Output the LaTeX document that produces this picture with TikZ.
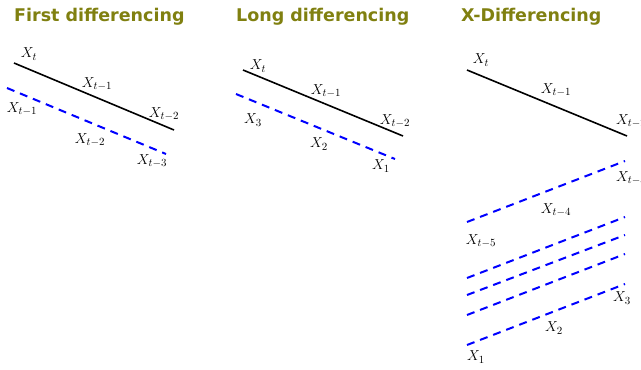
\documentclass[tikz,border=0pt]{standalone}
\usepackage{fontspec}
\newfontfamily\titlefont{DejaVu Sans}
\usepackage{tikz}
\usetikzlibrary{positioning}

\definecolor{titleolive}{RGB}{128,128,16}

\begin{document}
\begin{tikzpicture}[
  x=1pt, y=-1pt,
  title/.style={font=\titlefont\bfseries\fontsize{17.5}{19}\selectfont, text=titleolive, anchor=base west, inner sep=0pt},
  lbl/.style={font=\fontsize{15}{17}\selectfont, inner sep=0pt},
  lvl/.style={line width=1.6pt, black},
  diff/.style={line width=2pt, blue, dash pattern=on 8pt off 6pt},
]
\useasboundingbox (0,0) rectangle (641,370);
\clip (0,0) rectangle (641,370);

% Titles
\node[title] (t1) at (14,21) {First differencing};
\node[title] (t2) at (236,21) {Long differencing};
\node[title] (t3) at (461,21) {X-Differencing};

% First differencing
\coordinate (fa) at (14,63);
\coordinate (fb) at (174,130);
\coordinate (fc) at (7,88);
\coordinate (fd) at (166,154);
\draw[lvl] (fa) -- (fb);
\draw[diff] (fc) -- (fd);
\node[lbl] (f1) at (29,54) {$X_t$};
\node[lbl] (f2) at (97,84) {$X_{t-1}$};
\node[lbl] (f3) at (164,114) {$X_{t-2}$};
\node[lbl] (f4) at (22,109) {$X_{t-1}$};
\node[lbl] (f5) at (90,140) {$X_{t-2}$};
\node[lbl] (f6) at (152,161) {$X_{t-3}$};

% Long differencing
\coordinate (la) at (243,70);
\coordinate (lb) at (403,136);
\coordinate (lc) at (236,94);
\coordinate (ld) at (395,159);
\draw[lvl] (la) -- (lb);
\draw[diff] (lc) -- (ld);
\node[lbl] (l1) at (258,66) {$X_t$};
\node[lbl] (l2) at (326,91) {$X_{t-1}$};
\node[lbl] (l3) at (395,121) {$X_{t-2}$};
\node[lbl] (l4) at (253,120) {$X_3$};
\node[lbl] (l5) at (319,144) {$X_2$};
\node[lbl] (l6) at (381,166) {$X_1$};

% X-Differencing
\coordinate (xa) at (467,70);
\coordinate (xb) at (627,136);
\draw[lvl] (xa) -- (xb);
\foreach \i/\ya/\yb in {1/222/161, 2/278/217, 3/295/235, 4/315/254, 5/345/284}
  \draw[diff] (467,\ya) coordinate (xs\i) -- (625,\yb) coordinate (xe\i);
\node[lbl] (x1) at (481,60) {$X_t$};
\node[lbl] (x2) at (556,90) {$X_{t-1}$};
\node[lbl, anchor=west] (x3) at (616,121) {$X_{t-2}$};
\node[lbl, anchor=west] (x4) at (616,178) {$X_{t-3}$};
\node[lbl] (x5) at (556,210) {$X_{t-4}$};
\node[lbl] (x6) at (481,241) {$X_{t-5}$};
\node[lbl] (x7) at (622,298) {$X_3$};
\node[lbl] (x8) at (554,328) {$X_2$};
\node[lbl] (x9) at (476,357) {$X_1$};
\end{tikzpicture}
\end{document}
